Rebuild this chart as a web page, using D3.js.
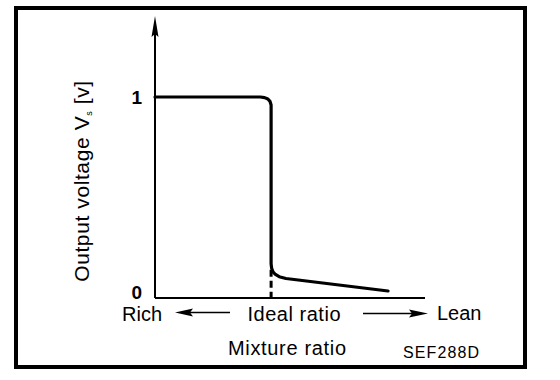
<!DOCTYPE html>
<html><head><meta charset="utf-8">
<script src="https://cdn.jsdelivr.net/npm/d3@7"></script>
<style>body{margin:0;background:#fff}svg{display:block}text{font-family:"Liberation Sans",Arial,sans-serif;fill:#000}</style>
</head><body>
<script>
// Data (mixture position 0 = rich ... 100 = lean; output voltage in V)
const mixture = [0, 39.0, 40.6, 41.8, 42.6, 43.0, 43.0, 43.2, 43.7, 44.6, 46.0, 48.5, 86.3];
const voltage = [1.0, 1.0, 0.997, 0.99, 0.978, 0.96, 0.17, 0.148, 0.13, 0.117, 0.106, 0.097, 0.035];
const yTicks = [0, 1];
const yTickLabels = ["0", "1"];
const idealRatio = 43.0;
const idealMarkTop = 0.14;
const xLabels = ["Rich", "Ideal ratio", "Lean"];
const xTitle = "Mixture ratio";
const yTitle = ["Output voltage V", "s", " [v]"];
const code = "SEF288D";

const W = 560, H = 380;
const svg = d3.select("body").append("svg").attr("width", W).attr("height", H);
const x = d3.scaleLinear().domain([0, 100]).range([155, 425]);
const y = d3.scaleLinear().domain([0, 1]).range([298, 97]);

// frame
svg.append("rect").attr("x", 16).attr("y", 8).attr("width", 509).attr("height", 359)
  .attr("fill", "none").attr("stroke", "#000").attr("stroke-width", 4);

// axes
svg.append("line").attr("x1", x(0)).attr("x2", x(100)).attr("y1", y(0)).attr("y2", y(0))
  .attr("stroke", "#000").attr("stroke-width", 2);
svg.append("line").attr("x1", x(0)).attr("x2", x(0)).attr("y1", y(0)).attr("y2", 30)
  .attr("stroke", "#000").attr("stroke-width", 2);
svg.append("path").attr("d", `M${x(0)},16 L${x(0)-3.5},37 L${x(0)},34 L${x(0)+3.5},37 Z`).attr("fill", "#000");

// tick labels
svg.selectAll("text.yt").data(yTicks).enter().append("text").attr("class", "yt")
  .attr("x", 142).attr("y", (d, i) => y(d) + (d === 0 ? 1 : 7))
  .attr("text-anchor", "end").attr("font-size", 19).attr("font-weight", "bold")
  .text((d, i) => yTickLabels[i]);

// ideal ratio dashed mark
svg.append("line").attr("x1", x(idealRatio)).attr("x2", x(idealRatio))
  .attr("y1", y(idealMarkTop)).attr("y2", y(0))
  .attr("stroke", "#000").attr("stroke-width", 3).attr("stroke-dasharray", "7,4");

// curve
const pts = mixture.map((m, i) => [m, voltage[i]]);
svg.append("path").datum(pts)
  .attr("d", d3.line().x(d => x(d[0])).y(d => y(d[1])).curve(d3.curveLinear))
  .attr("fill", "none").attr("stroke", "#000").attr("stroke-width", 3.2)
  .attr("stroke-linejoin", "round").attr("stroke-linecap", "round");

// y title
const yt = svg.append("text").attr("transform", "translate(89,181) rotate(-90)")
  .attr("text-anchor", "middle").attr("font-size", 21).attr("letter-spacing", 0.6);
yt.append("tspan").text(yTitle[0]);
yt.append("tspan").attr("font-size", 9).attr("dy", 3).text(yTitle[1]);
yt.append("tspan").attr("dy", -3).text(yTitle[2]);

// x labels row
svg.append("text").attr("x", 122).attr("y", 321).attr("font-size", 20).text(xLabels[0]);
svg.append("text").attr("x", 294).attr("y", 321).attr("text-anchor", "middle").attr("font-size", 20)
  .attr("textLength", 93).text(xLabels[1]);
svg.append("text").attr("x", 437).attr("y", 320).attr("font-size", 20).text(xLabels[2]);

// arrows
svg.append("line").attr("x1", 185).attr("x2", 230).attr("y1", 312.5).attr("y2", 312.5).attr("stroke", "#000").attr("stroke-width", 1.5);
svg.append("path").attr("d", "M175,312.5 L193,308.5 L190,312.5 L193,316.5 Z").attr("fill", "#000");
svg.append("line").attr("x1", 363).attr("x2", 418).attr("y1", 313.5).attr("y2", 313.5).attr("stroke", "#000").attr("stroke-width", 1.5);
svg.append("path").attr("d", "M428,313.5 L409,309.5 L412,313.5 L409,317.5 Z").attr("fill", "#000");

// x title
svg.append("text").attr("x", 287).attr("y", 355).attr("text-anchor", "middle").attr("font-size", 20)
  .attr("textLength", 118).text(xTitle);

// code
svg.append("text").attr("x", 403).attr("y", 358).attr("font-size", 16).attr("textLength", 76).text(code);
</script>
</body></html>
